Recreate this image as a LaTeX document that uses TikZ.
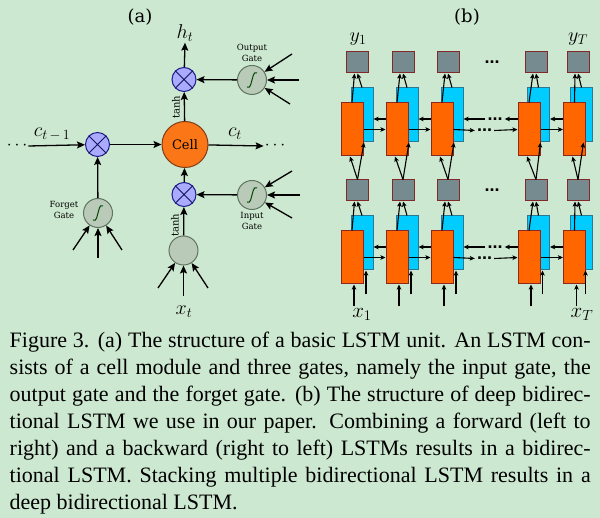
\RequirePackage{fix-cm}
\documentclass[tikz,border=0pt]{standalone}
\usepackage[no-math]{fontspec}
\setmainfont{Liberation Serif}
\newfontfamily\dvs{DejaVu Serif}
\newfontfamily\lsb{Liberation Sans}
\usetikzlibrary{arrows.meta}
\definecolor{bg}{RGB}{205,232,208}
\definecolor{cellf}{RGB}{250,118,22}
\definecolor{cellb}{RGB}{130,60,25}
\definecolor{orf}{RGB}{255,102,0}
\definecolor{obord}{RGB}{140,40,30}
\definecolor{bf}{RGB}{0,204,255}
\definecolor{bbord}{RGB}{40,120,150}
\definecolor{gf}{RGB}{118,139,144}
\definecolor{gbord}{RGB}{130,40,40}
\definecolor{multf}{RGB}{170,170,255}
\definecolor{multb}{RGB}{30,30,140}
\definecolor{multx}{RGB}{20,20,90}
\definecolor{gatef}{RGB}{185,202,185}
\definecolor{gateb}{RGB}{95,115,95}
\definecolor{sigc}{RGB}{0,70,0}
\newcommand\mysig[1]{\draw[sigc,line width=1pt] ([shift={(-5,7)}]#1.center) .. controls ([shift={(-1,9)}]#1.center) and ([shift={(-1,2)}]#1.center) .. (#1.center) .. controls ([shift={(1,-2)}]#1.center) and ([shift={(1,-9)}]#1.center) .. ([shift={(5,-7)}]#1.center);}
\newcommand\myx[1]{\draw[multx,line width=1pt] (#1.45) -- (#1.225) (#1.135) -- (#1.315);}
\tikzset{
 arw/.style={line width=1.3pt,-{Stealth[length=8pt,width=7pt,inset=1.5pt]}},
 barw/.style={line width=1.1pt,-{Stealth[length=5pt,width=4.5pt,inset=1pt]}},
 mult/.style={circle,draw=multb,fill=multf,line width=1pt,minimum size=24pt,inner sep=0pt},
 gate/.style={circle,draw=gateb,fill=gatef,line width=1pt,minimum size=29pt,inner sep=0pt},
 mlab/.style={font=\fontsize{20}{22}\selectfont,inner sep=1pt,anchor=base},
 glab/.style={font=\dvs\fontsize{8.5}{11}\selectfont,align=center,inner sep=0pt},
 tlab/.style={font=\dvs\fontsize{10}{12}\selectfont,rotate=90,inner sep=0pt},
 orect/.style={draw=obord,fill=orf,line width=1pt,minimum width=22pt,minimum height=53pt,inner sep=0pt},
 brect/.style={draw=bbord,fill=bf,line width=1pt,minimum width=22pt,minimum height=54pt,inner sep=0pt},
 gsq/.style={draw=gbord,fill=gf,line width=1pt,minimum width=22pt,minimum height=21pt,inner sep=0pt},
 mdots/.style={font=\fontsize{17.5}{20}\selectfont,inner sep=1pt},
 bdots/.style={font=\lsb\bfseries\fontsize{18}{20}\selectfont,inner xsep=2pt,inner ysep=0pt},
}
\begin{document}
\begin{tikzpicture}[x=1pt,y=-1pt]
\useasboundingbox (0,0) rectangle (600,518);
\fill[bg] (0,0) rectangle (600,518);
% ---------- (a) ----------
\node[font=\dvs\fontsize{18}{20}\selectfont] (la) at (140,17) {(a)};
\node[mlab] (ht) at (185,38.5) {$h_t$};
\node[mult] (ox) at (184,79.5) {};
\node[gate] (og) at (252,80) {};
\node[glab] (ogl) at (252,53) {Output\\Gate};
\node[circle,draw=cellb,fill=cellf,line width=1pt,minimum size=46pt,inner sep=0pt,font=\dvs\fontsize{13}{15}\selectfont] (cell) at (185,144.5) {Cell};
\node[mult] (fx) at (97.5,144.5) {};
\node[gate] (fg) at (98,213) {};
\node[glab] (fgl) at (64,209.5) {Forget\\Gate};
\node[mult] (ix) at (184,194.5) {};
\node[gate] (ig) at (252,195) {};
\node[glab] (igl) at (252,221) {Input\\Gate};
\node[gate] (inp) at (183.5,250.5) {};
\node[tlab] (th1) at (176,107) {tanh};
\node[tlab] (th2) at (175,225) {tanh};
\node[mlab] (ct) at (235,137) {$c_t$};
\node[mlab] (ctm) at (52,137) {$c_{t\,-\,1}$};
\node[mlab] (xt) at (184,315) {$x_t$};
\node[mdots] (dl) at (17,146) {$\cdots$};
\node[mdots] (dr) at (275,146) {$\cdots$};
\myx{ox}\myx{fx}\myx{ix}
\mysig{og}\mysig{ig}\mysig{fg}
\draw[arw] (ox) -- (ht.south);
\draw[arw] (og) -- (ox);
\draw[arw] (cell) -- (ox);
\draw[arw] (dl.east) -- (fx);
\draw[arw] (fx) -- (cell);
\draw[arw] (cell) -- (dr.west);
\draw[arw] (fg) -- (fx);
\draw[arw] (ix) -- (cell);
\draw[arw] (ig) -- (ix);
\draw[arw] (inp) -- (ix);
\coordinate (og1) at (292,54);
\coordinate (og2) at (299,80);
\coordinate (og3) at (290,104);
\coordinate (ig1) at (292,171);
\coordinate (ig2) at (300,195);
\coordinate (ig3) at (292,218);
\coordinate (fg1) at (73,250);
\coordinate (fg2) at (98,258);
\coordinate (fg3) at (122,250);
\coordinate (in1) at (158,288);
\coordinate (in2) at (183.5,296);
\coordinate (in3) at (208,288);
\foreach \c/\t in {og1/og,og2/og,og3/og,ig1/ig,ig2/ig,ig3/ig,fg1/fg,fg2/fg,fg3/fg,in1/inp,in2/inp,in3/inp}
  \draw[arw] (\c) -- (\t);
% ---------- (b) ----------
\node[font=\dvs\fontsize{18}{20}\selectfont] (lb) at (467,17) {(b)};
\foreach \i/\ox/\bx/\gx in {1/352/362/357.5, 2/397/407/403, 3/442/452/448, 4/529/538.5/536, 5/574.5/581.5/578} {
  \foreach \L/\dy in {u/0, l/128} {
    \node[brect] (b\L\i) at (\bx,115+\dy) {};
    \node[orect] (o\L\i) at (\ox,129.5+\dy) {};
    \node[gsq] (g\L\i) at (\gx,62.5+\dy) {};
  }
}
\node[mlab] (y1) at (358,41.5) {$y_1$};
\node[mlab] (yT) at (578,41.5) {$y_T$};
\node[mlab,font=\fontsize{21}{23}\selectfont] (x1) at (362,317.5) {$x_1$};
\node[mlab,font=\fontsize{21}{23}\selectfont] (xT) at (582,317.5) {$x_T$};
\node[bdots] (tdu) at (492,62) {...};
\node[bdots] (tdl) at (492,190) {...};
\foreach \i in {1,...,5} {
  \foreach \L in {u,l} {
    \draw[barw] (o\L\i.north) -- ([xshift=-3pt]g\L\i.south);
    \draw[barw] (b\L\i.north) -- (g\L\i.south);
  }
  \draw[barw] (gl\i.north) -- ([xshift=-2pt]ou\i.south);
  \draw[barw] (gl\i.north) -- ([xshift=2pt]bu\i.south);
  \coordinate (io\i) at ([xshift=2pt,yshift=-22pt]ol\i.south);
  \coordinate (ib\i) at ([xshift=4pt,yshift=-24pt]bl\i.south);
  \draw[barw] (io\i) -- ([xshift=2pt]ol\i.south);
  \draw[barw] (ib\i) -- ([xshift=4pt]bl\i.south);
}
\foreach \L/\dy in {u/0,l/128} {
  \foreach \i/\j in {1/2,2/3,4/5} {
    \draw[barw] ([yshift=10.5pt]o\L\j.west) -- ([yshift=-4pt]b\L\i.east);
    \draw[barw] (o\L\i.east) -- (o\L\j.west);
  }
  \node[bdots] (db\L) at (495,119+\dy) {...};
  \node[bdots] (df\L) at (484.5,130.5+\dy) {...};
  \draw[barw] ([yshift=10.5pt]o\L4.west) -- (db\L.east);
  \draw[barw] (db\L.west) -- ([yshift=-4pt]b\L3.east);
  \draw[barw] (o\L3.east) -- (df\L.west);
  \draw[barw] (df\L.east) -- (o\L4.west);
}
% ---------- caption ----------
\node[anchor=north west,inner sep=0pt,font=\fontsize{22}{27}\selectfont] (cap) at (9.5,328) {\vbox{%
\hbox to 581pt{\strut Figure 3. (a) The structure of a basic LSTM unit. An LSTM con-}%
\hbox to 581pt{\strut sists of a cell module and three gates, namely the input gate, the}%
\hbox to 581pt{\strut output gate and the forget gate. (b) The structure of deep bidirec-}%
\hbox to 581pt{\strut tional LSTM we use in our paper. Combining a forward (left to}%
\hbox to 581pt{\strut right) and a backward (right to left) LSTMs results in a bidirec-}%
\hbox to 581pt{\strut tional LSTM. Stacking multiple bidirectional LSTM results in a}%
\hbox to 581pt{\strut deep bidirectional LSTM.\hfil}}};
\end{tikzpicture}
\end{document}
